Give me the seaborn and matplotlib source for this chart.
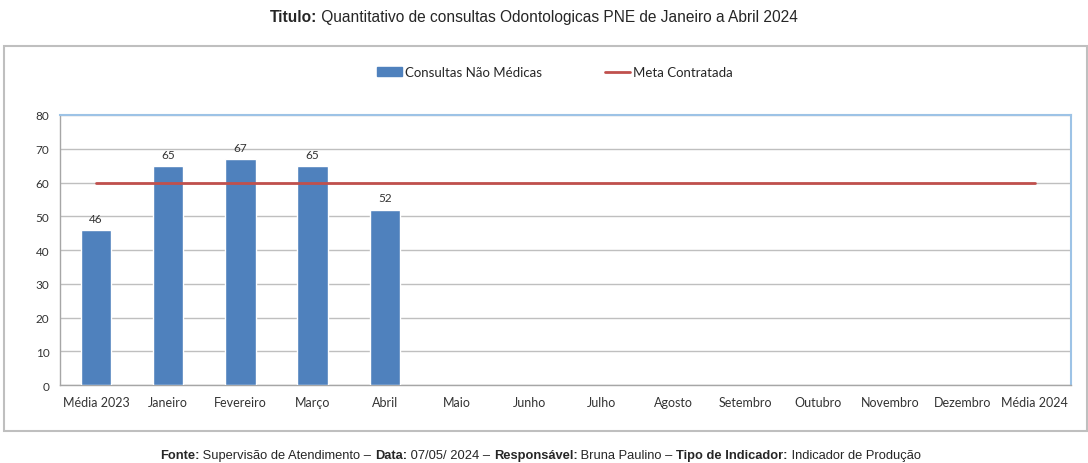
import matplotlib
matplotlib.use('Agg')
import matplotlib.pyplot as plt
import seaborn as sns
import pandas as pd
import numpy as np
from matplotlib.patches import Rectangle
from matplotlib.lines import Line2D
from matplotlib.patches import Patch

# Chart data
categorias = ['Média 2023', 'Janeiro', 'Fevereiro', 'Março', 'Abril', 'Maio', 'Junho',
              'Julho', 'Agosto', 'Setembro', 'Outubro', 'Novembro', 'Dezembro', 'Média 2024']
consultas = [46, 65, 67, 65, 52, np.nan, np.nan, np.nan, np.nan, np.nan, np.nan, np.nan, np.nan, np.nan]
meta = [60, 60, 60, 60, 60, 60, 60, 60, 60, 60, 60, 60, 60, 60]

df = pd.DataFrame({'Mes': categorias, 'Consultas': consultas, 'Meta': meta})

sns.set_style('white')
plt.rcParams['font.family'] = ['Lato', 'DejaVu Sans']

bar_color = '#4F81BD'
meta_color = '#C0504D'

fig = plt.figure(figsize=(10.88, 4.64), dpi=100)
ax = fig.add_axes([0.0551, 0.168, 0.929, 0.582])

sns.barplot(data=df, x='Mes', y='Consultas', color=bar_color, width=0.42,
            saturation=1, ax=ax, zorder=3)
ax.plot(range(len(categorias)), df['Meta'], color=meta_color, lw=2, zorder=4)

# data labels
for i, v in enumerate(consultas):
    if not np.isnan(v):
        ax.text(i, v + 1.8, f'{int(v)}', ha='center', va='bottom', fontsize=8.5, color='#333333')

ax.set_ylim(0, 80)
ax.set_xlim(-0.5, len(categorias) - 0.5)
ax.set_yticks(range(0, 81, 10))
ax.yaxis.grid(True, color='#BFBFBF', lw=1, zorder=0)
ax.set_axisbelow(True)
ax.set_xlabel('')
ax.set_ylabel('')

# category ticks at boundaries
ax.set_xticks(range(len(categorias)))
ax.set_xticklabels(categorias, fontsize=9, color='#333333')
ax.tick_params(axis='x', length=0, pad=8)
ax.set_xticks(np.arange(-0.5, len(categorias), 1), minor=True)
ax.tick_params(axis='x', which='minor', length=4, color='#A6A6A6', direction='out')
ax.tick_params(axis='y', labelsize=8.5, labelcolor='#333333', length=4, color='#A6A6A6', direction='out')

for s in ['left', 'bottom']:
    ax.spines[s].set_color('#A6A6A6')
    ax.spines[s].set_linewidth(1)
for s in ['top', 'right']:
    ax.spines[s].set_color('#9DC3E6')
    ax.spines[s].set_linewidth(1.5)

# legend
handles = [Patch(facecolor=bar_color, edgecolor=bar_color),
           Line2D([0], [0], color=meta_color, lw=2)]
fig.legend(handles, ['Consultas Não Médicas', 'Meta Contratada'], loc='center',
           bbox_to_anchor=(0.51, 0.842), ncol=2, frameon=False, fontsize=9.5,
           handlelength=1.9, handleheight=0.7, columnspacing=4.8, handletextpad=0.2)

# outer box
fig.patches.append(Rectangle((0.004, 0.069), 0.995, 0.83, transform=fig.transFigure,
                             fill=False, edgecolor='#BFBFBF', lw=1.5))

# title and footer
title_font = ['Liberation Sans', 'DejaVu Sans']
renderer = fig.canvas.get_renderer()


def rich_text(parts, x, y, size):
    for txt, bold in parts:
        t = fig.text(x, y, txt, ha='left', va='center', fontsize=size,
                     fontweight='bold' if bold else 'normal', family=title_font)
        bb = t.get_window_extent(renderer=renderer)
        x += bb.width / fig.bbox.width


rich_text([('Titulo:', True),
           (' Quantitativo de consultas Odontologicas PNE de Janeiro a Abril 2024', False)],
          0.2482, 0.962, 11.2)

rich_text([('Fonte:', True), (' Supervisão de Atendimento – ', False), ('Data:', True),
           (' 07/05/ 2024 – ', False), ('Responsável:', True), (' Bruna Paulino – ', False),
           ('Tipo de Indicador:', True), (' Indicador de Produção', False)],
          0.147, 0.018, 9.3)

fig.savefig('out.png', dpi=100)
